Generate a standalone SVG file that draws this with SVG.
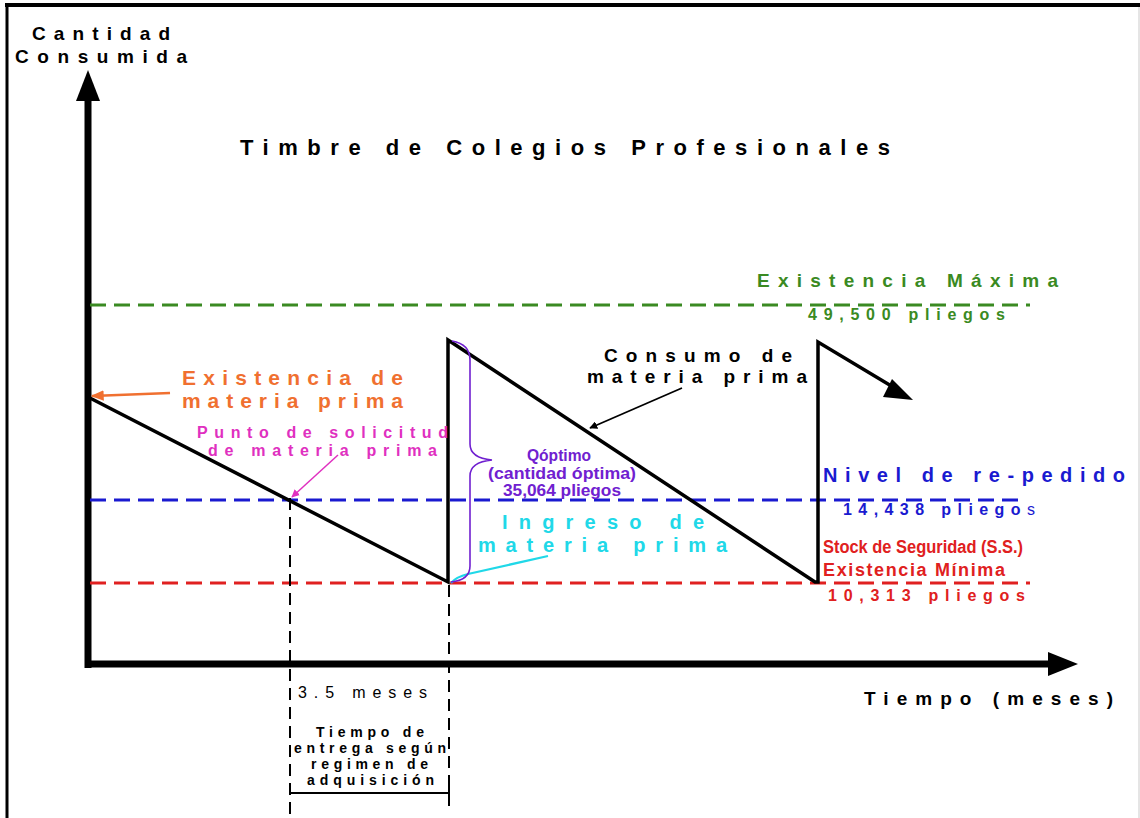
<svg xmlns="http://www.w3.org/2000/svg" width="1140" height="818" viewBox="0 0 1140 818">
<defs>
<style>
text{font-family:"Liberation Sans",Arial,sans-serif;font-weight:bold}
.n{font-weight:normal}
.dash{fill:none;stroke-width:3;stroke-dasharray:16 8}
.saw{fill:none;stroke:#000;stroke-width:3.5}
</style>
<marker id="ah" viewBox="0 0 10 10" refX="9" refY="5" markerWidth="8" markerHeight="8" orient="auto" markerUnits="userSpaceOnUse">
<path d="M0,0L10,5L0,10z" fill="context-stroke"/>
</marker>
<marker id="ahb" viewBox="0 0 10 10" refX="9" refY="5" markerWidth="13" markerHeight="13" orient="auto" markerUnits="userSpaceOnUse">
<path d="M0,1L10,5L0,9z" fill="context-stroke"/>
</marker>
</defs>
<rect width="1140" height="818" fill="#fff"/>
<g id="frame">
<line x1="5" y1="5" x2="1140" y2="5" stroke="#000" stroke-width="4"/>
<line x1="7" y1="3" x2="7" y2="818" stroke="#000" stroke-width="3"/>
<line x1="1139" y1="7" x2="1139" y2="818" stroke="#ddd" stroke-width="1.5"/>
</g>
<g id="axes">
<line x1="88" y1="668" x2="88" y2="98" stroke="#000" stroke-width="7"/>
<path d="M76,101L88,70L100,101z" fill="#000"/>
<line x1="85" y1="664" x2="1052" y2="664" stroke="#000" stroke-width="7"/>
<path d="M1048,652L1078,664L1048,676z" fill="#000"/>
</g>
<g id="levels">
<line class="dash" x1="90" y1="305" x2="1030" y2="305" stroke="#3a8a22"/>
<line class="dash" x1="90" y1="500" x2="1026" y2="500" stroke="#1a1ad0"/>
<line class="dash" x1="90" y1="583" x2="1030" y2="583" stroke="#e02020"/>
<line x1="290" y1="498" x2="290" y2="818" stroke="#000" stroke-width="2" stroke-dasharray="12 7"/>
<line x1="449" y1="585" x2="449" y2="812" stroke="#000" stroke-width="2" stroke-dasharray="12 7"/>
</g>
<g id="sawtooth">
<path class="saw" d="M88,397L448,582L448,340L815,582L818,582L818,342L898,390"/>
<path d="M892,379L913,400L883,397z" fill="#000"/>
</g>
<g id="connectors">
<line x1="170" y1="393" x2="92" y2="396" stroke="#f07030" stroke-width="2.5" marker-end="url(#ahb)"/>
<line x1="338" y1="455" x2="292" y2="497" stroke="#e030c0" stroke-width="1.5" marker-end="url(#ah)"/>
<line x1="682" y1="388" x2="590" y2="428" stroke="#000" stroke-width="1.8" marker-end="url(#ah)"/>
<path d="M548,556L468,574Q456,577 451,583" fill="none" stroke="#20d8e8" stroke-width="2.2"/>
<path d="M452,341Q470,344 470,360L470,444Q470,458 492,460Q470,462 470,476L470,566Q470,580 451,582" fill="none" stroke="#7020d0" stroke-width="1.6"/>
<path d="M291,793L449,793M449,787L449,799" fill="none" stroke="#000" stroke-width="2"/>
</g>
<g id="axis-labels">
<text x="32" y="40" font-size="19" textLength="138" lengthAdjust="spacing">Cantidad</text>
<text x="15" y="63" font-size="19" textLength="172" lengthAdjust="spacing">Consumida</text>
<text x="864" y="705" font-size="19" textLength="249" lengthAdjust="spacing">Tiempo (meses)</text>
</g>
<g id="title">
<text x="240" y="155" font-size="22" textLength="650" lengthAdjust="spacing">Timbre de Colegios Profesionales</text>
</g>
<g id="max" fill="#3a8a22">
<text x="757" y="287" font-size="19" textLength="301" lengthAdjust="spacing">Existencia Máxima</text>
<text x="808" y="320" font-size="16" textLength="197" lengthAdjust="spacing">49,500 pliegos</text>
</g>
<g id="existencia" fill="#f07030">
<text x="182" y="385" font-size="21" textLength="221" lengthAdjust="spacing">Existencia de</text>
<text x="182" y="408" font-size="21" textLength="221" lengthAdjust="spacing">materia prima</text>
</g>
<g id="punto" fill="#e030c0">
<text x="197" y="438" font-size="16" textLength="251" lengthAdjust="spacing">Punto de solicitud</text>
<text x="208" y="456" font-size="16" textLength="229" lengthAdjust="spacing">de materia prima</text>
</g>
<g id="consumo" fill="#000">
<text x="604" y="362" font-size="19" textLength="188" lengthAdjust="spacing">Consumo de</text>
<text x="587" y="383" font-size="19" textLength="220" lengthAdjust="spacing">materia prima</text>
</g>
<g id="qoptimo" fill="#7020d0">
<text x="527" y="461" font-size="16" textLength="64" lengthAdjust="spacingAndGlyphs">Qóptimo</text>
<text x="488" y="479" font-size="16" textLength="148" lengthAdjust="spacingAndGlyphs">(cantidad óptima)</text>
<text x="503" y="496" font-size="16" textLength="118" lengthAdjust="spacingAndGlyphs">35,064 pliegos</text>
</g>
<g id="ingreso" fill="#20d8e8">
<text x="502" y="529" font-size="20" textLength="202" lengthAdjust="spacing">Ingreso de</text>
<text x="478" y="552" font-size="20" textLength="249" lengthAdjust="spacing">materia prima</text>
</g>
<g id="repedido" fill="#1a1ad0">
<text x="823" y="482" font-size="20" textLength="302" lengthAdjust="spacing">Nivel de re-pedido</text>
<text x="843" y="515" font-size="16" textLength="192" lengthAdjust="spacing">14,438 pliego<tspan class="n">s</tspan></text>
</g>
<g id="stock" fill="#e02020">
<text x="823" y="553" font-size="17.5" textLength="200" lengthAdjust="spacingAndGlyphs">Stock de Seguridad (S.S.)</text>
<text x="823" y="576" font-size="18" textLength="182" lengthAdjust="spacing">Existencia Mínima</text>
<text x="828" y="601" font-size="16" textLength="197" lengthAdjust="spacing">10,313 pliegos</text>
</g>
<g id="lead-time" fill="#000">
<text class="n" x="298" y="698" font-size="16" textLength="129" lengthAdjust="spacing">3.5 meses</text>
<text x="316" y="737" font-size="14" textLength="108" lengthAdjust="spacing">Tiempo de</text>
<text x="294" y="753" font-size="14" textLength="152" lengthAdjust="spacing">entrega según</text>
<text x="311" y="769" font-size="14" textLength="117" lengthAdjust="spacing">regimen de</text>
<text x="307" y="785" font-size="14" textLength="127" lengthAdjust="spacing">adquisición</text>
</g>
</svg>
